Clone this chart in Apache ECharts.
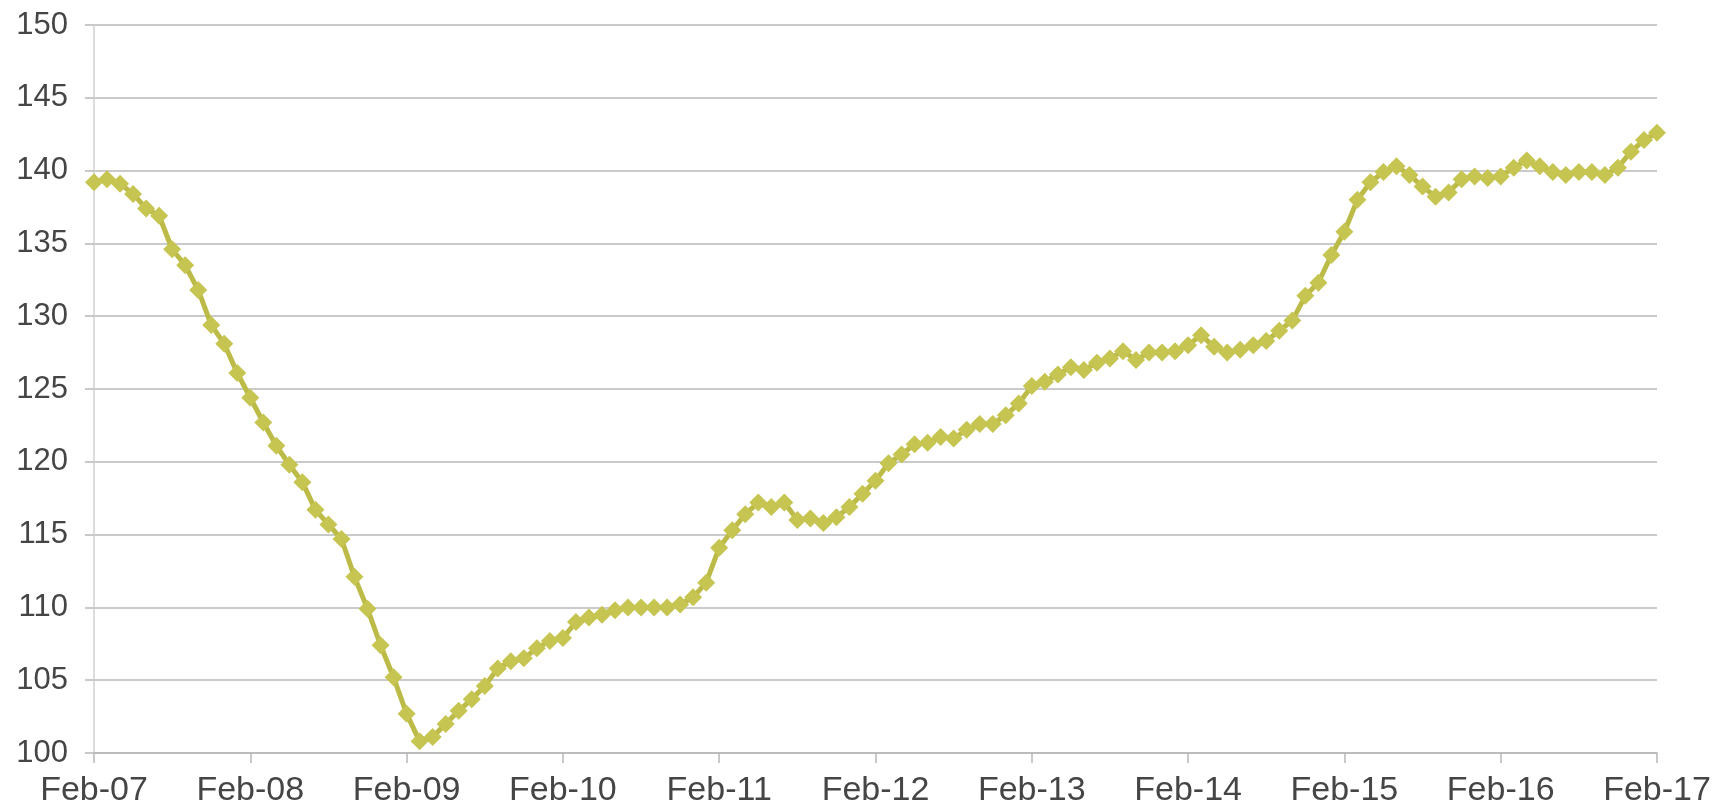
<!DOCTYPE html>
<html>
<head>
<meta charset="utf-8">
<script src="https://cdn.jsdelivr.net/npm/echarts@6/dist/echarts.min.js"></script>
<style>
    html, body { margin: 0; padding: 0; background: #fff; }
    #main { width: 1728px; height: 810px; }
</style>
</head>
<body>
<div id="main"></div>
<script>
    // tick labels, one per year (every 12 months)
    var tickLabels = ['Feb-07', 'Feb-08', 'Feb-09', 'Feb-10', 'Feb-11', 'Feb-12',
        'Feb-13', 'Feb-14', 'Feb-15', 'Feb-16', 'Feb-17'];

    // monthly index values, Feb-07 .. Feb-17
    var values2007 = [139.2, 139.4, 139.1, 138.4, 137.4, 136.9, 134.6, 133.5, 131.8, 129.4, 128.1, 126.1];
    var values2008 = [124.4, 122.7, 121.1, 119.8, 118.6, 116.7, 115.7, 114.7, 112.1, 109.9, 107.4, 105.2];
    var values2009 = [102.7, 100.8, 101.1, 102.0, 102.9, 103.7, 104.6, 105.8, 106.3, 106.5, 107.2, 107.7];
    var values2010 = [107.9, 109.0, 109.3, 109.5, 109.8, 110.0, 110.0, 110.0, 110.0, 110.2, 110.7, 111.7];
    var values2011 = [114.1, 115.3, 116.4, 117.2, 116.9, 117.2, 116.0, 116.1, 115.8, 116.2, 116.9, 117.8];
    var values2012 = [118.7, 119.9, 120.5, 121.2, 121.3, 121.7, 121.6, 122.2, 122.6, 122.6, 123.2, 124.0];
    var values2013 = [125.2, 125.5, 126.0, 126.5, 126.3, 126.8, 127.1, 127.6, 127.0, 127.5, 127.5, 127.6];
    var values2014 = [128.0, 128.7, 127.9, 127.5, 127.7, 128.0, 128.3, 129.0, 129.7, 131.4, 132.3, 134.2];
    var values2015 = [135.8, 138.0, 139.2, 139.9, 140.3, 139.7, 138.9, 138.2, 138.5, 139.4, 139.6, 139.5];
    var values2016 = [139.6, 140.2, 140.7, 140.3, 139.9, 139.7, 139.9, 139.9, 139.7, 140.2, 141.3, 142.1];
    var values2017 = [142.6];

    var values = [].concat(values2007, values2008, values2009, values2010, values2011,
        values2012, values2013, values2014, values2015, values2016, values2017);

    var points = values.map(function (v, i) { return [i, v]; });

    var textColor = '#454545';
    var gridColor = '#b8b8b8';

    var option = {
        backgroundColor: '#ffffff',
        animation: false,
        grid: {
            left: 94,
            right: 71,
            top: 25,
            bottom: 57
        },
        xAxis: {
            type: 'value',
            min: 0,
            max: 120,
            interval: 12,
            axisLine: { show: true, lineStyle: { color: gridColor, width: 1.5 } },
            axisTick: { show: true, length: 10, lineStyle: { color: gridColor, width: 1.5 } },
            splitLine: { show: false },
            axisLabel: {
                margin: 21,
                color: textColor,
                fontFamily: 'Liberation Sans, Arial, sans-serif',
                fontSize: 34,
                formatter: function (v) { return tickLabels[Math.round(v / 12)]; }
            }
        },
        yAxis: {
            type: 'value',
            min: 100,
            max: 150,
            interval: 5,
            axisLine: { show: true, lineStyle: { color: '#d0d0d0', width: 1.5 } },
            axisTick: { show: true, length: 9, lineStyle: { color: gridColor, width: 1.5 } },
            splitLine: { show: true, lineStyle: { color: gridColor, width: 1.5 } },
            axisLabel: {
                margin: 26,
                color: textColor,
                fontFamily: 'Liberation Sans, Arial, sans-serif',
                fontSize: 31
            }
        },
        series: [{
            type: 'line',
            data: points,
            symbol: 'diamond',
            symbolSize: 18,
            lineStyle: { color: '#bcbb48', width: 5 },
            itemStyle: { color: '#c6c552' },
            z: 3
        }]
    };

    var myChart = echarts.init(document.getElementById('main'));
    myChart.setOption(option);
</script>
</body>
</html>
